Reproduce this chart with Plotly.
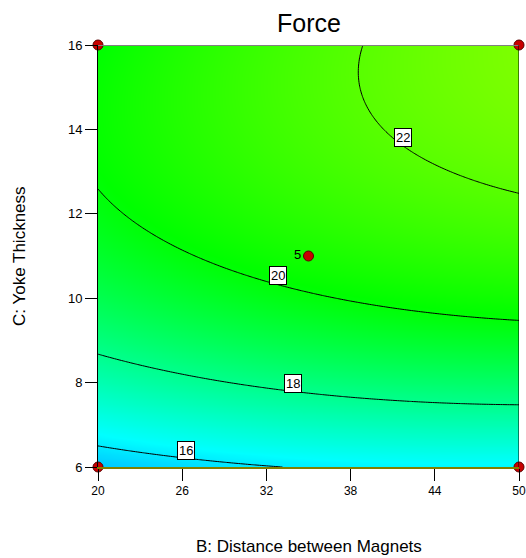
import numpy as np
import plotly.graph_objects as go

# Fitted response-surface model for Force (coded factors: x1=(B-35)/15, x2=(C-11)/5)
# terms: intercept, B, C, BC, B^2, C^2
model_terms = ["1", "B", "C", "BC", "B2", "C2"]
model_coef = [20.5335, 0.8649, 2.8070, 0.4998, -0.2324, -1.6778]

# design points (B, C) and run counts
design_B = [20, 20, 50, 50, 35]
design_C = [6, 16, 6, 16, 11]
design_label = ["", "", "", "", "5"]

# contour levels and label positions
contour_levels = [16, 18, 20, 22]
label_B = [26.3, 33.9, 32.8, 41.7]
label_C = [6.38, 7.99, 10.53, 13.80]

x_ticks = [20, 26, 32, 38, 44, 50]
y_ticks = [6, 8, 10, 12, 14, 16]

B = np.linspace(20, 50, 181)
C = np.linspace(6, 16, 181)
BB, CC = np.meshgrid(B, C)
X1 = (BB - 35) / 15
X2 = (CC - 11) / 5
b = model_coef
Z = b[0] + b[1]*X1 + b[2]*X2 + b[3]*X1*X2 + b[4]*X1**2 + b[5]*X2**2

# colour map (value-based stops)
zmin, zmax = 12.6, 25.6
def s(v):
    return (v - zmin) / (zmax - zmin)
cscale = [[0, 'rgb(0,0,255)'], [s(16.3), 'rgb(0,255,255)'], [s(20.1), 'rgb(0,255,0)'],
          [1, 'rgb(255,255,0)']]

font = "Liberation Sans, Arial, sans-serif"

fig = go.Figure()
fig.add_trace(go.Heatmap(x=B, y=C, z=Z, zsmooth='best', showscale=False,
                         zmin=zmin, zmax=zmax, colorscale=cscale, hoverinfo='skip'))
fig.add_trace(go.Contour(x=B, y=C, z=Z,
                         contours=dict(start=contour_levels[0], end=contour_levels[-1], size=2, coloring='none'),
                         line=dict(color='black', width=1), showscale=False, hoverinfo='skip'))
fig.add_trace(go.Scatter(x=design_B, y=design_C, mode='markers+text', text=design_label,
                         textposition='middle left', textfont=dict(family=font, size=13, color='black'),
                         marker=dict(size=10, color='rgb(200,0,0)', line=dict(color='rgb(90,0,0)', width=1)),
                         cliponaxis=False, showlegend=False, hoverinfo='skip'))

for lv, lb, lc in zip(contour_levels, label_B, label_C):
    fig.add_annotation(x=lb, y=lc, text=str(lv), showarrow=False,
                       font=dict(family=font, size=13, color='black'),
                       bgcolor='white', bordercolor='black', borderwidth=1, borderpad=1)

# borders
fig.add_shape(type='line', xref='x', yref='y', x0=20, x1=50, y0=16, y1=16, line=dict(color='gray', width=2))
fig.add_shape(type='line', xref='x', yref='y', x0=50, x1=50, y0=6, y1=16, line=dict(color='black', width=1))

fig.add_annotation(text="Force", x=0.5, y=1, xref='paper', yref='paper', yshift=6, yanchor='bottom',
                   showarrow=False, font=dict(family=font, size=25, color='black'))
fig.add_annotation(text="B: Distance between Magnets", x=0.5, y=0, xref='paper', yref='paper', yanchor='middle',
                   yshift=-79, showarrow=False, font=dict(family=font, size=17, color='black'))
fig.add_annotation(text="C: Yoke Thickness", x=0, y=0.5, xref='paper', yref='paper', xanchor='center',
                   xshift=-79, textangle=-90, showarrow=False, font=dict(family=font, size=17, color='black'))

fig.update_xaxes(range=[20, 50], tickvals=x_ticks, ticks='outside', ticklen=12, tickcolor='black',
                 showgrid=False, zeroline=False, showline=True, linecolor='rgb(128,128,0)', linewidth=2,
                 tickfont=dict(family=font, size=12, color='black'), automargin=False)
fig.update_yaxes(range=[6, 16], tickvals=y_ticks, ticks='outside', ticklen=12, tickcolor='black',
                 showgrid=False, zeroline=False, showline=True, linecolor='black', linewidth=1,
                 tickfont=dict(family=font, size=13, color='black'), automargin=False)
fig.update_layout(width=526, height=558, margin=dict(l=98, r=7, t=45, b=91),
                  plot_bgcolor='white', paper_bgcolor='white', showlegend=False)
fig.write_html("out.html")
